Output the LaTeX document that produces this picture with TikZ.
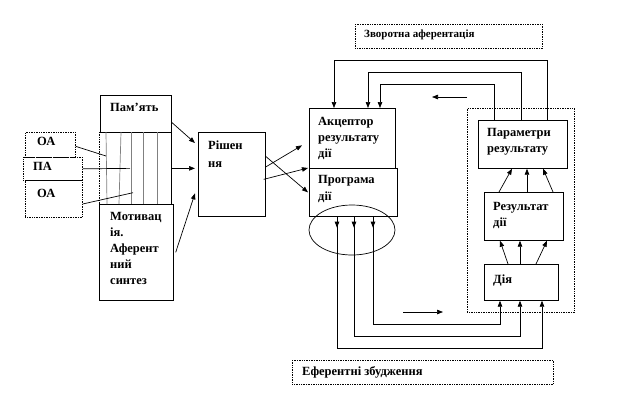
\documentclass[tikz,border=0pt]{standalone}
\usepackage{fontspec}
\setmainfont{Liberation Serif}
\usetikzlibrary{arrows.meta,positioning,calc,shapes.geometric}

\begin{document}
\begin{tikzpicture}[x=1pt, y=-1pt,
 blk/.style={draw, anchor=north west, inner sep=0pt, line width=0.7pt},
 dblk/.style={blk, densely dotted},
 txt/.style={anchor=north west, align=left, font=\bfseries\fontsize{12.5}{16}\selectfont,
 inner xsep=9pt, inner ysep=8pt},
 ar/.style={-{Triangle[length=6pt,width=4.5pt]}, line width=0.7pt},
 ln/.style={line width=0.7pt},
]
\useasboundingbox (0,0) rectangle (622,408);

% left block
\node[blk, minimum width=71pt, minimum height=37pt, label={[txt, xshift=1pt]north west:Пам’ять}] (mem) at (100,95) {};
\node[blk, draw=none, minimum width=72pt, minimum height=72pt] (strip) at (99,132) {};
\node[blk, minimum width=74pt, minimum height=96pt,
 label={[txt, xshift=2pt]north west:{Мотивац\\ія.\\Аферент\\ний\\синтез}}] (mot) at (99,204) {};
\draw[ln, densely dotted] (strip.north west) -- (strip.south west);
\draw[ln] (strip.north east) -- (strip.south east);
\foreach \xa/\xb in {106/107, 121/119, 131/131, 143/143, 157/157}
 \draw[ln, gray] (\xa,132) -- (\xb,204);

\node[dblk, minimum width=50pt, minimum height=25pt, label={[txt, inner ysep=5pt, xshift=3pt]north west:ОА}] (oa1) at (25,132) {};
\node[dblk, minimum width=59pt, minimum height=23pt, label={[txt, inner ysep=5pt, xshift=1pt]north west:ПА}] (pa) at (23,157) {};
\node[dblk, minimum width=57pt, minimum height=37pt, label={[txt, inner ysep=9pt, xshift=3pt]north west:ОА}] (oa2) at (25,180) {};

\draw[ln] ([yshift=-1.5pt]oa1.east) -- ([shift={(7,24)}]strip.north west);
\draw[ln] (pa.east) -- ([xshift=31pt]strip.west);
\draw[ln] ([yshift=-24pt]oa2.north east) -- ([shift={(34,-12)}]strip.south west);

% decision
\node[blk, minimum width=67pt, minimum height=84pt,
 label={[txt, inner ysep=9pt, xshift=1pt, font=\bfseries\fontsize{12.5}{18}\selectfont]north west:{Рішен\\ня}}] (dec) at (198,132) {};
\draw[ar] ([yshift=-8.5pt]mem.east) -- ([shift={(-3,11)}]dec.north west);
\draw[ar] (strip.east) -- ([shift={(-3,-6)}]dec.west);
\draw[ar] ([xshift=2pt]mot.east) -- ([shift={(-3,19)}]dec.west);

% acceptor and program
\node[blk, minimum width=86pt, minimum height=60pt,
 label={[txt, inner ysep=9pt]north west:{Акцептор\\результату\\дії}}] (akc) at (309,108) {};
\node[blk, minimum width=88pt, minimum height=48pt,
 label={[txt, inner ysep=7pt, font=\bfseries\fontsize{12.5}{17}\selectfont]north west:{Програма\\дії}}] (prog) at (309,168) {};
\node[draw, ellipse, line width=0.7pt, minimum width=86pt, minimum height=50pt, inner sep=0pt] (ell) at (352,230) {};

\draw[ar] ([yshift=-35pt]dec.north east) -- ($(akc.west)+(-7,7)$);
\draw[ar] ([shift={(-2,5)}]dec.east) -- ([xshift=-1pt]prog.north west);
\draw[ar] ([yshift=18pt]dec.east) -- ([xshift=-1pt]prog.west);

% right block
\node[dblk, minimum width=107pt, minimum height=204pt] (outer) at (467,108) {};
\node[blk, minimum width=89pt, minimum height=48pt,
 label={[txt, inner ysep=8pt]north west:{Параметри\\результату}}] (par) at (478,120) {};
\node[blk, minimum width=79pt, minimum height=48pt,
 label={[txt, inner ysep=10pt]north west:{Результат\\дії}}] (res) at (484,192) {};
\node[blk, minimum width=74pt, minimum height=36pt,
 label={[txt, inner ysep=11pt]north west:Дія}] (act) at (484,264) {};

\draw[ar] ([xshift=15pt]res.north west) -- ([xshift=34pt]par.south west);
\draw[ar] ([xshift=43pt]res.north west) -- ([xshift=49pt]par.south west);
\draw[ar] ([xshift=69pt]res.north west) -- ([xshift=65pt]par.south west);
\draw[ar] ([xshift=24pt]act.north west) -- ([xshift=16pt]res.south west);
\draw[ar] ([xshift=36pt]act.north west) -- ([xshift=36pt]res.south west);
\draw[ar] ([xshift=52pt]act.north west) -- ([xshift=63pt]res.south west);

% feedback afferentation
\draw[ar] ([xshift=69pt]par.north west) -- ++(0,-60) -| ([xshift=25pt]akc.north west);
\draw[ar] ([xshift=43pt]par.north west) -- ++(0,-48) -| ([xshift=59pt]akc.north west);
\draw[ar] ([xshift=16pt]par.north west) -- ++(0,-36) -| ([xshift=71pt]akc.north west);
\coordinate (fbs) at (467,97);
\coordinate (fbe) at (432,97);
\draw[ar] (fbs) -- (fbe);

% efferent excitation
\foreach \xp/\dy/\xq in {28/132/58, 45/120/36, 64/108/16} {
 \draw[ar] ([xshift=\xp pt]prog.south west) -- ++(0,11);
 \draw[ar] ([xshift=\xp pt]prog.south west) -- ++(0,\dy) -| ([xshift=\xq pt]act.south west);
}
\coordinate (efs) at (403,312);
\coordinate (efe) at (443,312);
\draw[ar] (efs) -- (efe);

% captions
\node[dblk, minimum width=187pt, minimum height=24pt,
 label={[txt, inner ysep=6pt, font=\bfseries\fontsize{11}{13}\selectfont]north west:Зворотна аферентація}] (fb) at (355,24) {};
\node[dblk, minimum width=261pt, minimum height=24pt,
 label={[txt, inner ysep=6pt, xshift=1pt]north west:Еферентні збудження}] (ef) at (292,360) {};
\end{tikzpicture}
\end{document}
